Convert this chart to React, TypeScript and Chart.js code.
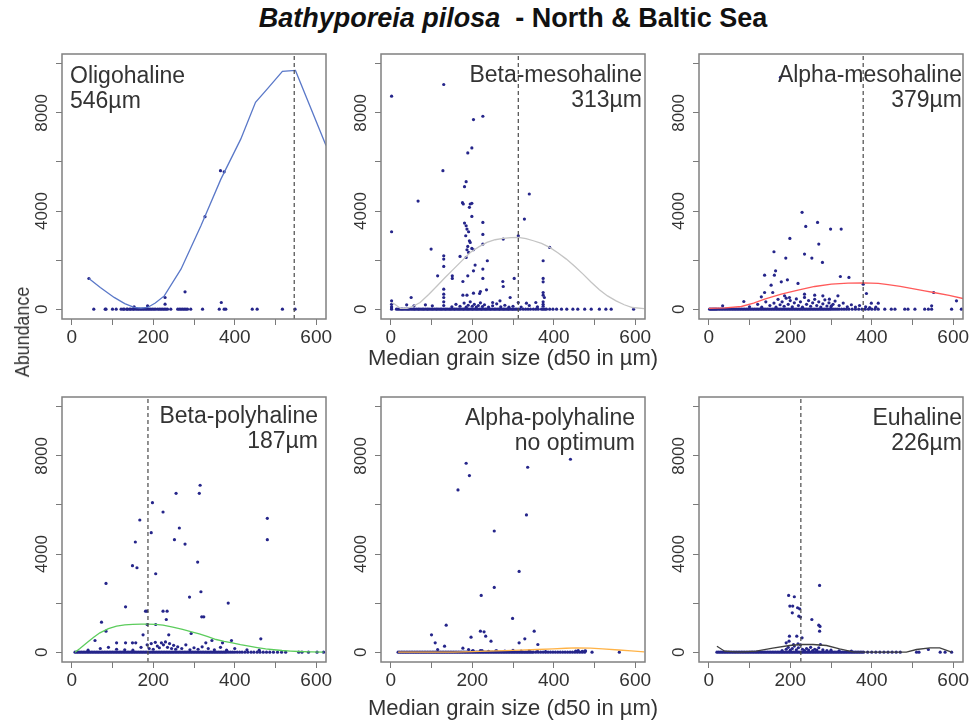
import React, { useEffect, useRef } from 'react';
import { Chart, registerables } from 'chart.js';
Chart.register(...registerables);

const FONT = '"Liberation Sans", Arial, Helvetica, sans-serif';
Chart.defaults.font.family = FONT;

// ---- axes ----
const xTickValues = [0, 100, 200, 300, 400, 500, 600];
const xTickLabels = [0, 200, 400, 600];
const yTickValues = [0, 2000, 4000, 6000, 8000, 10000];
const yTickLabels = [0, 4000, 8000];
const X_MIN = -24, X_MAX = 624, Y_MIN = -400, Y_MAX = 10400;

// ---- panel texts ----
const panelNames = ['Oligohaline', 'Beta-mesohaline', 'Alpha-mesohaline', 'Beta-polyhaline', 'Alpha-polyhaline', 'Euhaline'];
const panelOptimaText = ['546µm', '313µm', '379µm', '187µm', 'no optimum', '226µm'];
const optimumX: (number | null)[] = [546, 313, 379, 187, null, 226];
const curveColors = ['#5a78c8', '#c4c4c4', '#ff5a5a', '#5ccc5c', '#ffb347', '#404040'];

// ---- Panel 1: Oligohaline ----
const p1Zero = [54, 82, 84, 100, 109, 121, 126, 129, 135, 137, 142, 145, 150, 153, 158, 162, 166, 170, 174, 178, 182, 186, 190, 194, 198, 202, 206, 211, 215, 219, 223, 227, 231, 235, 243, 260, 264, 268, 272, 276, 280, 284, 292, 321, 362, 374, 378, 443, 455, 517, 548];
const p1Pts = [[42, 1250], [153, 95], [186, 136], [229, 476], [229, 204], [278, 707], [367, 272], [365, 5646], [374, 5600], [327, 3769]];
const p1Curve = [[42, 1250], [70, 880], [104, 480], [130, 230], [153, 70], [170, 40], [186, 70], [205, 250], [227, 540], [268, 1630], [317, 3400], [366, 5300], [415, 6940], [451, 8430], [480, 8980], [517, 9690], [549, 9730], [624, 6670]];

// ---- Panel 2: Beta-mesohaline ----
const p2Zero = [2, 14, 18, 22, 26, 29, 33, 37, 41, 44, 48, 52, 56, 59, 63, 67, 70, 74, 78, 81, 85, 89, 92, 96, 100, 103, 107, 111, 114, 118, 122, 125, 129, 133, 136, 140, 144, 147, 151, 155, 158, 162, 166, 169, 173, 177, 180, 184, 188, 191, 195, 199, 202, 206, 210, 213, 217, 221, 224, 228, 232, 235, 239, 243, 246, 250, 254, 257, 261, 265, 268, 272, 276, 279, 283, 287, 290, 294, 298, 301, 305, 309, 313, 318, 325, 331, 337, 343, 350, 356, 362, 370, 374, 378, 382, 390, 398, 407, 419, 432, 447, 459, 476, 492, 512, 528, 541, 596];
const p2Low = [[130, 300], [130, 150], [150, 100], [160, 200], [170, 120], [180, 250], [185, 80], [190, 160], [195, 300], [200, 120], [205, 200], [210, 90], [215, 150], [220, 260], [225, 110], [230, 180], [240, 90], [250, 140], [260, 220], [270, 100], [280, 160], [290, 80], [300, 120], [320, 90], [340, 150], [360, 100], [374, 200], [374, 300], [374, 120], [2, 100], [2, 200], [2, 340], [2, 50]];
const p2Pts = [[2, 8680], [2, 3156], [130, 9156], [203, 7728], [226, 7864], [199, 6571], [189, 6367], [128, 5646], [185, 5197], [181, 4993], [67, 4408], [176, 4340], [178, 4286], [195, 4286], [199, 4313], [193, 4150], [199, 3782], [340, 4694], [328, 3673], [226, 3537], [181, 3510], [185, 3401], [187, 3265], [191, 3156], [226, 3048], [184, 2993], [193, 2789], [195, 2721], [226, 2653], [189, 2558], [199, 2476], [187, 2422], [191, 2313], [203, 2422], [99, 2449], [390, 2517], [313, 2993], [276, 2857], [130, 2177], [130, 2041], [130, 1741], [185, 2109], [170, 2150], [237, 1973], [374, 1973], [207, 1796], [226, 1633], [203, 1565], [115, 1361], [151, 1361], [151, 1252], [177, 1129], [189, 1361], [226, 1252], [275, 1129], [276, 925], [303, 1252], [374, 1252], [374, 1116], [374, 680], [374, 571], [377, 476], [235, 789], [220, 721], [218, 640], [177, 571], [187, 571], [203, 653], [130, 816], [130, 612], [130, 476], [50, 476], [293, 476], [268, 340], [250, 272], [313, 272], [333, 245], [356, 272], [39, 177], [57, 136], [85, 177], [102, 136]];
const p2Curve = [[2, 272], [10, 200], [24, 30], [40, 30], [55, 120], [72, 272], [93, 600], [114, 952], [134, 1300], [154, 1633], [175, 1980], [195, 2313], [216, 2540], [236, 2721], [256, 2830], [276, 2884], [295, 2920], [313, 2930], [332, 2880], [350, 2789], [370, 2680], [390, 2517], [410, 2300], [431, 2041], [452, 1740], [472, 1429], [492, 1100], [512, 789], [532, 540], [553, 340], [573, 180], [593, 68], [622, 27]];

// ---- Panel 3: Alpha-mesohaline ----
const p3Zero = [2, 5, 8, 11, 14, 17, 20, 24, 28, 32, 36, 40, 44, 48, 52, 56, 60, 64, 68, 72, 76, 80, 84, 88, 92, 96, 100, 104, 108, 112, 116, 120, 124, 128, 132, 136, 140, 144, 148, 152, 156, 160, 164, 168, 172, 176, 180, 184, 188, 192, 196, 200, 204, 208, 212, 216, 220, 224, 228, 232, 236, 240, 244, 248, 252, 256, 260, 264, 268, 272, 276, 280, 284, 288, 292, 296, 300, 305, 310, 315, 320, 326, 332, 338, 344, 352, 360, 368, 376, 384, 392, 400, 408, 416, 432, 448, 457, 481, 489, 506, 530, 539, 547, 596, 620];
const p3Low = [[100, 100], [120, 200], [130, 80], [140, 300], [150, 150], [160, 250], [165, 80], [170, 400], [175, 180], [180, 300], [185, 120], [190, 450], [195, 200], [200, 350], [205, 100], [210, 260], [215, 420], [220, 150], [225, 300], [230, 80], [235, 480], [240, 200], [245, 350], [250, 120], [255, 260], [260, 400], [265, 150], [270, 300], [275, 90], [280, 220], [285, 380], [290, 130], [295, 260], [300, 100], [305, 200], [310, 330], [320, 150], [330, 250], [340, 100], [350, 180], [360, 90], [370, 150], [385, 100], [395, 60], [410, 80]];
const p3Pts = [[176, 9450], [229, 3946], [238, 3374], [267, 3537], [299, 3265], [325, 3265], [199, 2884], [270, 2653], [235, 2245], [160, 2340], [253, 2082], [189, 2082], [279, 1905], [164, 1565], [161, 1388], [137, 1388], [323, 1333], [344, 1293], [153, 980], [178, 1116], [193, 1197], [219, 1048], [137, 680], [129, 503], [86, 313], [34, 136], [157, 680], [186, 544], [198, 476], [235, 612], [260, 571], [280, 544], [296, 408], [317, 544], [301, 136], [387, 640], [379, 1020], [399, 245], [416, 245], [547, 136], [608, 340], [552, 680]];
const p3Curve = [[0, 30], [40, 50], [80, 110], [110, 250], [137, 408], [178, 612], [219, 775], [260, 925], [301, 1020], [342, 1061], [380, 1070], [416, 1048], [440, 1000], [470, 930], [500, 840], [530, 750], [552, 680], [590, 560], [624, 435]];

// ---- Panel 4: Beta-polyhaline ----
const p4Zero = [8, 12, 16, 20, 24, 28, 32, 36, 40, 44, 48, 52, 56, 60, 64, 68, 72, 76, 80, 84, 88, 92, 96, 100, 104, 108, 112, 116, 120, 124, 128, 132, 136, 140, 144, 148, 152, 156, 160, 164, 168, 172, 176, 180, 184, 188, 192, 196, 200, 204, 208, 212, 216, 220, 224, 228, 232, 236, 240, 244, 248, 252, 256, 260, 264, 268, 272, 276, 280, 284, 288, 292, 296, 300, 304, 308, 312, 316, 320, 324, 328, 332, 336, 340, 344, 348, 352, 356, 360, 364, 368, 372, 376, 380, 385, 390, 395, 400, 406, 412, 418, 425, 432, 440, 447, 455, 462, 470, 478, 486, 495, 505, 515, 525, 557, 565, 581, 602, 618];
const p4Low = [[40, 80], [70, 150], [90, 200], [110, 120], [130, 100], [150, 80], [170, 200], [185, 300], [190, 150], [195, 350], [200, 120], [205, 400], [210, 250], [215, 180], [220, 380], [225, 300], [230, 420], [235, 200], [240, 350], [245, 150], [250, 280], [255, 120], [260, 220], [270, 150], [280, 300], [290, 100], [300, 180], [310, 120], [320, 220], [335, 150], [350, 100], [365, 200], [380, 80], [400, 150], [430, 100], [460, 80]];
const p4Pts = [[315, 6803], [313, 6476], [256, 6476], [198, 6095], [224, 5714], [167, 5388], [480, 5456], [195, 4871], [264, 5061], [252, 4585], [480, 4585], [156, 4490], [278, 4408], [309, 3673], [149, 3524], [160, 3442], [206, 3197], [84, 2803], [289, 2245], [317, 2463], [384, 2000], [132, 1850], [181, 1673], [184, 1673], [224, 1673], [234, 1673], [232, 1333], [319, 1442], [324, 1442], [73, 1224], [185, 1129], [206, 1129], [175, 707], [238, 707], [293, 762], [84, 857], [57, 476], [464, 544], [392, 476], [344, 476], [110, 381], [132, 381], [149, 381], [157, 381], [329, 381], [370, 381]];
const p4Curve = [[8, 0], [20, 150], [37, 381], [53, 600], [69, 789], [90, 960], [110, 1061], [130, 1110], [150, 1135], [170, 1145], [185, 1145], [205, 1130], [224, 1102], [248, 1020], [272, 925], [292, 840], [313, 748], [334, 630], [354, 517], [374, 440], [394, 381], [414, 310], [435, 245], [455, 190], [476, 136], [496, 100], [516, 68], [537, 45], [557, 27], [587, 10], [618, 0]];

// ---- Panel 5: Alpha-polyhaline ----
const p5Zero = [18, 22, 26, 30, 34, 38, 42, 46, 50, 54, 58, 62, 66, 70, 74, 78, 82, 86, 90, 94, 98, 102, 106, 110, 114, 118, 122, 126, 130, 134, 138, 142, 146, 150, 154, 158, 162, 166, 170, 174, 178, 182, 186, 190, 194, 198, 202, 206, 210, 214, 218, 222, 226, 230, 234, 238, 242, 246, 250, 254, 258, 262, 266, 270, 274, 278, 282, 286, 290, 294, 298, 302, 306, 310, 314, 318, 322, 326, 330, 334, 338, 342, 346, 350, 356, 362, 368, 374, 380, 386, 392, 398, 404, 410, 416, 422, 428, 434, 440, 446, 452, 458, 464, 470, 476, 494, 561];
const p5Low = [[200, 40], [220, 60], [240, 30], [260, 50], [280, 40], [300, 70], [320, 40], [340, 60], [360, 30], [380, 20], [460, 60], [470, 30], [478, 50]];
const p5Pts = [[185, 7700], [193, 7197], [336, 7537], [441, 7864], [165, 6612], [333, 5592], [254, 4939], [315, 3293], [254, 2639], [222, 2313], [299, 1374], [136, 1102], [100, 707], [197, 612], [233, 653], [229, 830], [220, 857], [352, 857], [329, 544], [109, 381], [315, 381], [246, 449], [132, 245], [361, 313], [115, 109], [177, 163], [191, 109], [202, 68], [224, 68], [258, 54], [454, 41], [476, 41]];
const p5Curve = [[18, 0], [100, 0], [153, 5], [200, 25], [236, 41], [280, 60], [317, 82], [360, 110], [398, 136], [430, 160], [455, 177], [490, 165], [520, 136], [560, 90], [590, 50], [622, 10]];

// ---- Panel 6: Euhaline ----
const p6Zero = [20, 24, 28, 32, 36, 40, 44, 48, 52, 56, 60, 64, 68, 72, 76, 80, 84, 88, 92, 96, 100, 104, 108, 112, 116, 120, 124, 128, 132, 136, 140, 144, 148, 152, 156, 160, 164, 168, 172, 176, 180, 184, 188, 192, 196, 200, 204, 208, 212, 216, 220, 224, 228, 232, 236, 240, 244, 248, 252, 256, 260, 264, 268, 272, 276, 280, 284, 288, 292, 296, 300, 304, 308, 312, 316, 320, 324, 328, 332, 336, 340, 344, 348, 352, 356, 360, 364, 368, 372, 376, 380, 390, 400, 410, 420, 430, 440, 450, 460, 470, 510, 516, 568, 580, 596];
const p6Low = [[180, 60], [190, 120], [195, 200], [200, 80], [205, 150], [210, 250], [215, 100], [220, 180], [225, 300], [230, 120], [235, 60], [240, 150], [245, 90], [250, 200], [255, 60], [260, 120], [265, 80], [270, 180], [280, 100], [290, 60], [300, 80], [320, 50], [350, 40]];
const p6Pts = [[272, 2721], [196, 2313], [210, 2259], [199, 1878], [206, 1878], [218, 1810], [223, 1769], [205, 1605], [221, 1469], [225, 1429], [253, 1333], [270, 1102], [273, 1048], [272, 857], [198, 653], [216, 653], [229, 585], [190, 381], [197, 449], [208, 313], [219, 340], [274, 313], [539, 109]];
const p6Curve = [[20, 245], [39, 41], [75, 0], [116, 41], [157, 163], [198, 272], [227, 313], [256, 313], [289, 272], [321, 136], [354, 14], [403, 0], [452, 0], [485, 0], [510, 109], [543, 177], [567, 177], [596, 0]];

const zeroSets = [p1Zero, p2Zero, p3Zero, p4Zero, p5Zero, p6Zero];
const lowSets = [[], p2Low, p3Low, p4Low, p5Low, p6Low];
const pointSets = [p1Pts, p2Pts, p3Pts, p4Pts, p5Pts, p6Pts];
const curveSets = [p1Curve, p2Curve, p3Curve, p4Curve, p5Curve, p6Curve];

// ---- layout (pixels) ----
const YW = 52, XH = 34, PAD_T = 6, PAD_R = 14, PLOT_W = 264, PLOT_H = 265;
const colLefts = [62, 381, 699];
const rowTops = [54, 397];

const POINT_COLOR = '#25258a';
const TEXT_COLOR = '#333333';

const boxPlugin = {
  id: 'rbox',
  afterDatasetsDraw(chart: any) {
    const { ctx, chartArea: a } = chart;
    ctx.save();
    ctx.strokeStyle = '#808080';
    ctx.lineWidth = 1.5;
    ctx.strokeRect(a.left, a.top, a.right - a.left, a.bottom - a.top);
    ctx.restore();
  },
};

function PanelChart({ idx }: { idx: number }) {
  const ref = useRef<HTMLCanvasElement>(null);
  const col = idx % 3;
  const row = Math.floor(idx / 3);
  const w = YW + PLOT_W + PAD_R;
  const h = PAD_T + PLOT_H + XH;

  useEffect(() => {
    const canvas = ref.current;
    if (!canvas) return;
    const pts = [
      ...zeroSets[idx].map((x) => ({ x, y: 0 })),
      ...lowSets[idx].map(([x, y]) => ({ x, y })),
      ...pointSets[idx].map(([x, y]) => ({ x, y })),
    ];
    const datasets: any[] = [
      {
        data: pts,
        pointRadius: 1.6,
        pointBackgroundColor: POINT_COLOR,
        pointBorderWidth: 0,
        borderWidth: 0,
        order: 3,
      },
      {
        data: curveSets[idx].map(([x, y]) => ({ x, y })),
        showLine: true,
        borderColor: curveColors[idx],
        borderWidth: 1.3,
        pointRadius: 0,
        tension: 0,
        order: 2,
      },
    ];
    const ox = optimumX[idx];
    if (ox !== null) {
      datasets.push({
        data: [{ x: ox, y: Y_MIN }, { x: ox, y: Y_MAX }],
        showLine: true,
        borderColor: '#4a4a4a',
        borderWidth: 1.2,
        borderDash: [4, 3],
        pointRadius: 0,
        order: 1,
      });
    }
    const chart = new Chart(canvas, {
      type: 'scatter',
      data: { datasets },
      plugins: [boxPlugin],
      options: {
        animation: false,
        responsive: false,
        maintainAspectRatio: false,
        devicePixelRatio: 1,
        layout: { padding: { top: PAD_T, right: PAD_R, left: 0, bottom: 0 } },
        plugins: { legend: { display: false }, tooltip: { enabled: false }, title: { display: false } },
        scales: {
          x: {
            type: 'linear',
            min: X_MIN,
            max: X_MAX,
            afterBuildTicks: (s: any) => {
              s.ticks = xTickValues.map((v) => ({ value: v }));
            },
            afterFit: (s: any) => {
              s.height = XH;
            },
            grid: { drawOnChartArea: false, drawTicks: true, tickLength: 6, color: '#7a7a7a', lineWidth: 1 },
            border: { display: false },
            ticks: {
              autoSkip: false,
              maxRotation: 0,
              padding: 1,
              color: TEXT_COLOR,
              font: { size: 19, family: FONT },
              callback: (v: any) => (xTickLabels.includes(Number(v)) ? String(v) : ''),
            },
          },
          y: {
            type: 'linear',
            min: Y_MIN,
            max: Y_MAX,
            afterBuildTicks: (s: any) => {
              s.ticks = yTickValues.map((v) => ({ value: v }));
            },
            afterFit: (s: any) => {
              s.width = YW;
            },
            grid: { drawOnChartArea: false, drawTicks: true, tickLength: 6, color: '#7a7a7a', lineWidth: 1 },
            border: { display: false },
            ticks: {
              autoSkip: false,
              minRotation: 90,
              maxRotation: 90,
              crossAlign: 'center',
              padding: -5,
              color: TEXT_COLOR,
              font: { size: 17, family: FONT },
              callback: (v: any) => (yTickLabels.includes(Number(v)) ? String(v) : ''),
            },
          },
        },
      } as any,
    });
    return () => chart.destroy();
  }, [idx]);

  return (
    <canvas
      ref={ref}
      width={w}
      height={h}
      style={{ position: 'absolute', left: colLefts[col] - YW, top: rowTops[row] - PAD_T, width: w, height: h }}
    />
  );
}

// panel label anchors: [x, top, align]
const labelAnchors: [number, number, 'left' | 'right'][] = [
  [70, 63, 'left'],
  [642, 62, 'right'],
  [962, 62, 'right'],
  [318, 403, 'right'],
  [635, 405, 'right'],
  [962, 405, 'right'],
];

export default function App() {
  const txt: React.CSSProperties = { position: 'absolute', fontFamily: FONT, color: TEXT_COLOR, whiteSpace: 'pre' };
  return (
    <div style={{ position: 'absolute', left: 0, top: 0, width: 971, height: 726, background: '#ffffff', overflow: 'hidden' }}>
      {[0, 1, 2, 3, 4, 5].map((i) => (
        <PanelChart key={i} idx={i} />
      ))}
      <div style={{ ...txt, left: 0, width: 1026, top: 2, textAlign: 'center', fontSize: 27, fontWeight: 'bold', color: '#111', lineHeight: '32px' }}>
        <span style={{ fontStyle: 'italic' }}>Bathyporeia pilosa</span>{'  - North & Baltic Sea'}
      </div>
      <div style={{ ...txt, left: 0, width: 1026, top: 345, textAlign: 'center', fontSize: 22, lineHeight: '26px' }}>
        Median grain size (d50 in µm)
      </div>
      <div style={{ ...txt, left: 0, width: 1026, top: 695, textAlign: 'center', fontSize: 22, lineHeight: '26px' }}>
        Median grain size (d50 in µm)
      </div>
      <div
        style={{
          ...txt,
          left: 22,
          top: 332,
          fontSize: 21,
          lineHeight: '24px',
          transform: 'translate(-50%, -50%) rotate(-90deg) scaleX(0.85)',
        }}
      >
        Abundance
      </div>
      {labelAnchors.map(([x, top, align], i) => (
        <div
          key={'lab' + i}
          style={{
            ...txt,
            top,
            left: align === 'left' ? x : x - 300,
            width: 300,
            textAlign: align,
            fontSize: 23,
            lineHeight: '25px',
          }}
        >
          {panelNames[i] + '\n' + panelOptimaText[i]}
        </div>
      ))}
    </div>
  );
}
